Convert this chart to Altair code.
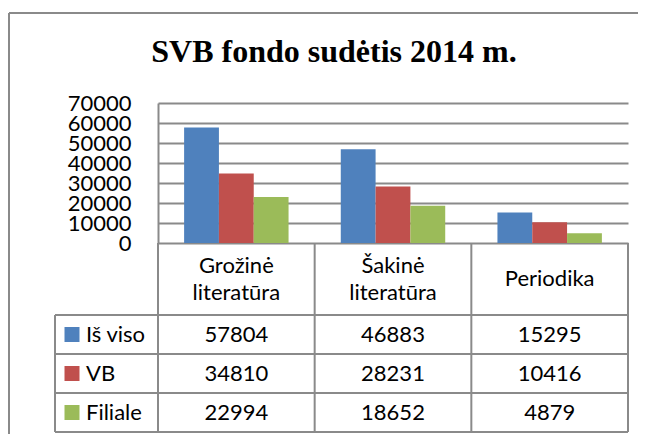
import altair as alt
import pandas as pd

# ---- data -------------------------------------------------------------
TITLE = "SVB fondo sudėtis 2014 m."
CATEGORIES = ["Grožinė literatūra", "Šakinė literatūra", "Periodika"]
SERIES = ["Iš viso", "VB", "Filiale"]
IS_VISO = [57804, 46883, 15295]
VB = [34810, 28231, 10416]
FILIALE = [22994, 18652, 4879]
COLORS = ["#4F81BD", "#C0504D", "#9BBB59"]
Y_TICKS = [0, 10000, 20000, 30000, 40000, 50000, 60000, 70000]

rows = []
for s, vals in zip(SERIES, [IS_VISO, VB, FILIALE]):
    for c, v in zip(CATEGORIES, vals):
        rows.append({"category": c, "series": s, "value": v})
df = pd.DataFrame(rows)

# ---- layout (pixels, relative to the plot area) -------------------------
W, H = 470, 140
HEADER_BOTTOM = 212
TABLE_BOTTOM = 329
LEGEND_LEFT = -103
COL_STEP = W / 3
LINE = "#8a8a8a"
FONT = "Lato"
FS = 22
LH = 27

x_scale = alt.Scale(domain=CATEGORIES, paddingInner=1 / 3, paddingOuter=1 / 6)
color_scale = alt.Scale(domain=SERIES, range=COLORS)
row_scale = alt.Scale(type="point", domain=SERIES,
                      range=[HEADER_BOTTOM, TABLE_BOTTOM], padding=0.5)

bars = alt.Chart(df).mark_bar().encode(
    x=alt.X("category:N", scale=x_scale, sort=CATEGORIES, axis=None),
    xOffset=alt.XOffset("series:N", scale=alt.Scale(domain=SERIES)),
    y=alt.Y("value:Q", scale=alt.Scale(domain=[0, 70000], nice=False),
            axis=alt.Axis(values=Y_TICKS, format="d", title=None, grid=True,
                          gridColor=LINE, gridWidth=2, domain=True,
                          domainColor=LINE, domainWidth=2, ticks=False,
                          tickSize=0, labelPadding=27, labelFont=FONT,
                          labelFontSize=FS, labelColor="black",
                          labelOverlap=False, labelFlush=False)),
    color=alt.Color("series:N", scale=color_scale, legend=None),
)

# table lines
lines = []
for k in range(4):
    lines.append({"x": k * COL_STEP, "x2": k * COL_STEP, "y": H, "y2": TABLE_BOTTOM})
lines.append({"x": LEGEND_LEFT, "x2": LEGEND_LEFT, "y": HEADER_BOTTOM, "y2": TABLE_BOTTOM})
row_h = (TABLE_BOTTOM - HEADER_BOTTOM) / 3
for k in range(4):
    yy = HEADER_BOTTOM + k * row_h
    lines.append({"x": LEGEND_LEFT, "x2": W, "y": yy, "y2": yy})
# outer frame (left and top edges)
lines.append({"x": -149, "x2": -149, "y": -90, "y2": TABLE_BOTTOM + 10})
lines.append({"x": -149, "x2": W + 12, "y": -90, "y2": -90})
lines_df = pd.DataFrame(lines)

rules = alt.Chart(lines_df).mark_rule(color=LINE, strokeWidth=2).encode(
    x=alt.X("x:Q", scale=None), x2="x2:Q",
    y=alt.Y("y:Q", scale=None), y2="y2:Q",
)

# header cells: first line placed so the wrapped block is centred in the cell
header_center = (H + HEADER_BOTTOM) / 2
header_df = pd.DataFrame({"category": CATEGORIES})
header_df["hy"] = [header_center - (len(c.split(" ")) - 1) * LH / 2 for c in CATEGORIES]

header = alt.Chart(header_df).mark_text(
    font=FONT, fontSize=FS, lineBreak=" ", lineHeight=LH,
    align="center", baseline="middle", color="black",
).encode(
    x=alt.X("category:N", scale=x_scale, sort=CATEGORIES, axis=None),
    y=alt.Y("hy:Q", scale=None),
    text="category:N",
)

cells = alt.Chart(df).mark_text(
    font=FONT, fontSize=FS, align="center", baseline="middle", color="black",
).encode(
    x=alt.X("category:N", scale=x_scale, sort=CATEGORIES, axis=None),
    y=alt.Y("series:N", scale=row_scale, axis=None),
    text=alt.Text("value:Q", format="d"),
)

legend_df = pd.DataFrame({"series": SERIES})
squares = alt.Chart(legend_df).mark_square(size=225, opacity=1).encode(
    x=alt.value(LEGEND_LEFT + 17),
    y=alt.Y("series:N", scale=row_scale, axis=None),
    color=alt.Color("series:N", scale=color_scale, legend=None),
)
legend_text = alt.Chart(legend_df).mark_text(
    font=FONT, fontSize=FS, align="left", baseline="middle", color="black",
).encode(
    x=alt.value(LEGEND_LEFT + 31),
    y=alt.Y("series:N", scale=row_scale, axis=None),
    text="series:N",
)

title = alt.Chart(pd.DataFrame({"t": [TITLE]})).mark_text(
    font="Liberation Serif", fontSize=32, fontWeight="bold",
    align="center", baseline="alphabetic", color="black",
).encode(x=alt.value(176), y=alt.value(-41), text="t:N")

chart = alt.layer(
    bars, rules, header, cells, squares, legend_text, title
).resolve_scale(
    x="independent", y="independent"
).properties(
    width=W, height=H,
    padding={"left": 150, "top": 95, "right": 10, "bottom": 191},
    autosize=alt.AutoSizeParams(type="none"),
    background="white",
).configure_view(stroke=None)

chart.save("out.html", embed_options={"renderer": "svg", "actions": False})
